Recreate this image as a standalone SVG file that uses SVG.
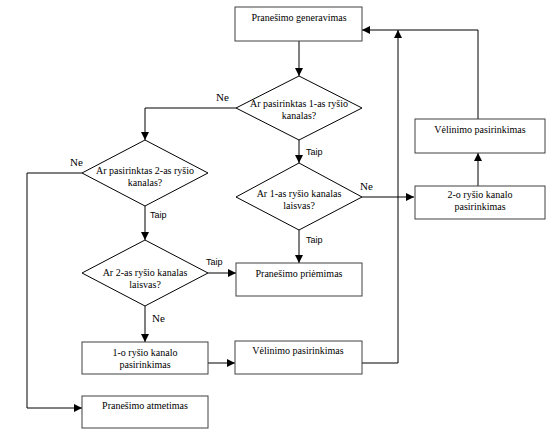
<svg xmlns="http://www.w3.org/2000/svg" width="553" height="440" viewBox="0 0 553 440">
<defs>
<marker id="ah" viewBox="0 0 10 10" refX="10" refY="5" markerWidth="8" markerHeight="8" markerUnits="userSpaceOnUse" orient="auto">
<path d="M0,0 L10,5 L0,10 Z" fill="#000"/>
</marker>
</defs>
<style>
.box{fill:#fff;stroke:#404040;stroke-width:1}
.dia{fill:#fff;stroke:#000;stroke-width:1}
.t{font-family:"Liberation Serif","Times New Roman",serif;font-size:10px;fill:#000;text-anchor:middle}
.ne{font-family:"Liberation Serif","Times New Roman",serif;font-size:11px;fill:#000}
.taip{font-family:"Liberation Sans",Arial,sans-serif;font-size:9px;fill:#000}
.c{fill:none;stroke:#000;stroke-width:1}
</style>
<rect width="553" height="440" fill="#fff"/>
<g id="connectors">
<path class="c" d="M299,41 V76" marker-end="url(#ah)"/>
<path class="c" d="M236,108 H145 V140" marker-end="url(#ah)"/>
<path class="c" d="M299,140 V163" marker-end="url(#ah)"/>
<path class="c" d="M82,173 H27 V408 H82" marker-end="url(#ah)"/>
<path class="c" d="M145,206 V240" marker-end="url(#ah)"/>
<path class="c" d="M362,197 H414" marker-end="url(#ah)"/>
<path class="c" d="M299,230 V263" marker-end="url(#ah)"/>
<path class="c" d="M208,273 H236" marker-end="url(#ah)"/>
<path class="c" d="M145,306 V342" marker-end="url(#ah)"/>
<path class="c" d="M208,363 H235" marker-end="url(#ah)"/>
<path class="c" d="M362,363 H398 V30" marker-end="url(#ah)"/>
<path class="c" d="M478,186 V153" marker-end="url(#ah)"/>
<path class="c" d="M478,119 V30 H362" marker-end="url(#ah)"/>
<text class="ne" x="216" y="101">Ne</text>
<text class="taip" x="306" y="155">Taip</text>
<text class="ne" x="70" y="166">Ne</text>
<text class="taip" x="150" y="218">Taip</text>
<text class="ne" x="360" y="190">Ne</text>
<text class="taip" x="306" y="243">Taip</text>
<text class="taip" x="206" y="265">Taip</text>
<text class="ne" x="152" y="322">Ne</text>
</g>
<g id="gen"><rect class="box" x="235" y="7" width="127" height="34"/><text class="t" x="299" y="21">Pranešimo generavimas</text></g>
<g id="d1"><polygon class="dia" points="299,76 362,108 299,140 236,108"/><text class="t" x="299" y="107">Ar pasirinktas 1-as ryšio</text><text class="t" x="299" y="119">kanalas?</text></g>
<g id="d2"><polygon class="dia" points="145,140 208,173 145,206 82,173"/><text class="t" x="145" y="174">Ar pasirinktas 2-as ryšio</text><text class="t" x="145" y="186">kanalas?</text></g>
<g id="d3"><polygon class="dia" points="299,163 362,197 299,230 236,197"/><text class="t" x="299" y="197">Ar 1-as ryšio kanalas</text><text class="t" x="299" y="209">laisvas?</text></g>
<g id="d4"><polygon class="dia" points="145,240 208,273 145,306 82,273"/><text class="t" x="145" y="276">Ar 2-as ryšio kanalas</text><text class="t" x="145" y="288">laisvas?</text></g>
<g id="vel1"><rect class="box" x="415" y="119" width="130" height="34"/><text class="t" x="480" y="133">Vėlinimo pasirinkimas</text></g>
<g id="ch2"><rect class="box" x="415" y="186" width="130" height="33"/><text class="t" x="480" y="198">2-o ryšio kanalo</text><text class="t" x="480" y="210">pasirinkimas</text></g>
<g id="prie"><rect class="box" x="236" y="263" width="126" height="33"/><text class="t" x="299" y="277">Pranešimo priėmimas</text></g>
<g id="ch1"><rect class="box" x="82" y="342" width="126" height="32"/><text class="t" x="145" y="356">1-o ryšio kanalo</text><text class="t" x="145" y="368">pasirinkimas</text></g>
<g id="vel2"><rect class="box" x="235" y="341" width="127" height="33"/><text class="t" x="298" y="354">Vėlinimo pasirinkimas</text></g>
<g id="atm"><rect class="box" x="82" y="396" width="126" height="32"/><text class="t" x="145" y="409">Pranešimo atmetimas</text></g>
</svg>
